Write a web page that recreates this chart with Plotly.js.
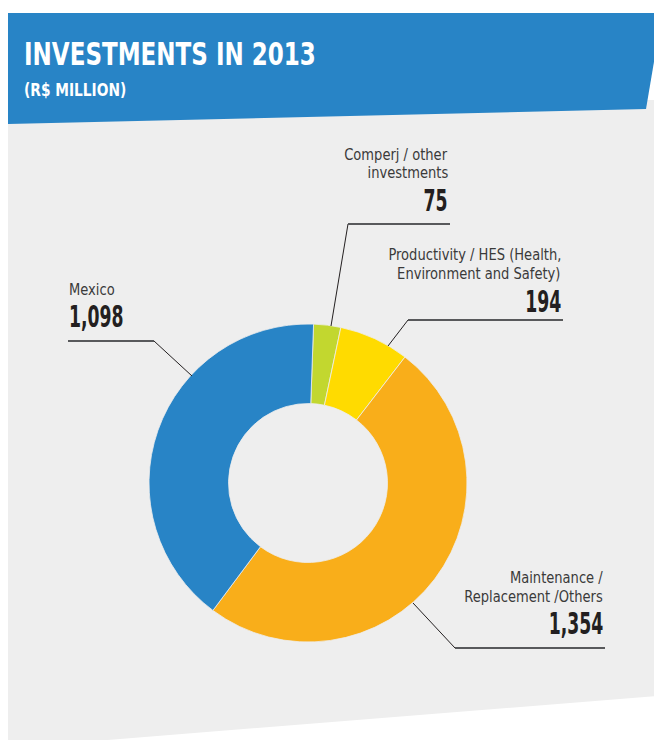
<!DOCTYPE html>
<html><head><meta charset="utf-8">
<script src="https://cdn.plot.ly/plotly-3.0.1.min.js"></script>
<style>html,body{margin:0;padding:0;background:#fff;overflow:hidden;} #chart{width:654px;height:740px;}</style>
</head><body><div id="chart"></div>
<script>
// ---- data ----
const categories = ["Comperj / other investments", "Productivity / HES (Health, Environment and Safety)", "Maintenance / Replacement /Others", "Mexico"];
const values = [75, 194, 1354, 1098];
const valueLabels = ["75", "194", "1,354", "1,098"];
const labelLines = [["Comperj / other", "investments"], ["Productivity / HES (Health,", "Environment and Safety)"], ["Maintenance /", "Replacement /Others"], ["Mexico"]];
const titleText = "INVESTMENTS IN 2013";
const subtitleText = "(R$ MILLION)";

// ---- styles / layout ----
const sliceColors = ["#c2d72f", "#ffdb00", "#f9ae1a", "#2884c6"];
const W = 654, H = 740;
const FONT = "'DejaVu Sans Condensed', 'DejaVu Sans', sans-serif";
const px = x => x / W;
const py = y => 1 - y / H;
const cx = 308, cy = 483, R = 159;

// label placement per slice: anchor x, side, line centers, number center, leader polyline
const labelPos = [
  {x: 449, anchor: "right", lines: [155, 173], num: 200, leader: [[331, 326], [348, 224], [450, 224]]},
  {x: 562, anchor: "right", lines: [254.5, 274], num: 301.5, leader: [[388, 346], [408, 320], [563, 320]]},
  {x: 604, anchor: "right", lines: [578, 596.5], num: 623.5, leader: [[413, 603], [455, 648], [605, 648]]},
  {x: 68, anchor: "left", lines: [290.5], num: 316.5, leader: [[192, 376], [154, 341], [68, 341]]}
];

const annotations = [];
const shapes = [];
const squeeze = []; // [annotation index, horizontal scale, anchor side]

function pathOf(pts) {
  return pts.map((p, i) => (i ? "L" : "M") + px(p[0]) + "," + py(p[1])).join(" ") + " Z";
}

// background panels
shapes.push({type: "path", xref: "paper", yref: "paper", layer: "below",
  path: pathOf([[8, 100], [W + 2, 100], [W + 2, 696], [8, 748]]),
  fillcolor: "#eeeeee", line: {width: 0}});
shapes.push({type: "path", xref: "paper", yref: "paper", layer: "below",
  path: pathOf([[8, 13], [W + 2, 13], [W + 2, 50], [646, 109], [8, 124]]),
  fillcolor: "#2884c6", line: {width: 0}});

squeeze.push([annotations.length, 0.8, "left"]);
annotations.push({xref: "paper", yref: "paper", x: px(22), y: py(54), xanchor: "left", yanchor: "middle",
  text: "<b>" + titleText + "</b>", showarrow: false, font: {family: FONT, size: 32, color: "#ffffff"}});
squeeze.push([annotations.length, 0.9, "left"]);
annotations.push({xref: "paper", yref: "paper", x: px(22), y: py(90), xanchor: "left", yanchor: "middle",
  text: "<b>" + subtitleText + "</b>", showarrow: false, font: {family: FONT, size: 17, color: "#ffffff"}});

labelPos.forEach((lp, i) => {
  labelLines[i].forEach((t, j) => {
    squeeze.push([annotations.length, 0.97, lp.anchor]);
    annotations.push({xref: "paper", yref: "paper", x: px(lp.x), y: py(lp.lines[j]), xanchor: lp.anchor, yanchor: "middle",
      text: t, showarrow: false, borderpad: 0, font: {family: FONT, size: 15, color: "#3a3a3a"}});
  });
  squeeze.push([annotations.length, 0.64, lp.anchor]);
  annotations.push({xref: "paper", yref: "paper", x: px(lp.x), y: py(lp.num), xanchor: lp.anchor, yanchor: "middle",
    text: "<b>" + valueLabels[i] + "</b>", showarrow: false, borderpad: 0, font: {family: FONT, size: 30, color: "#231f20"}});
  const L = lp.leader;
  shapes.push({type: "path", xref: "paper", yref: "paper", layer: "above",
    path: "M" + px(L[0][0]) + "," + py(L[0][1]) + " L" + px(L[1][0]) + "," + py(L[1][1]),
    line: {color: "#231f20", width: 1}});
  shapes.push({type: "path", xref: "paper", yref: "paper", layer: "above",
    path: "M" + px(L[1][0]) + "," + py(L[1][1]) + " L" + px(L[2][0]) + "," + py(L[2][1]),
    line: {color: "#58595b", width: 2}});
});

const trace = {
  type: "pie", labels: categories, values: values, sort: false, direction: "clockwise", rotation: 2,
  hole: 0.5, textinfo: "none", hoverinfo: "label+value",
  marker: {colors: sliceColors, line: {color: "#eeeeee", width: 0.8}},
  domain: {x: [px(cx - R), px(cx + R)], y: [py(cy + R), py(cy - R)]},
  showlegend: false
};

const layout = {
  width: W, height: H, margin: {l: 0, r: 0, t: 0, b: 0},
  paper_bgcolor: "#ffffff", showlegend: false,
  shapes: shapes, annotations: annotations
};

Plotly.newPlot("chart", [trace], layout, {displayModeBar: false, staticPlot: true}).then(gd => {
  // condensed look: squeeze annotation text horizontally around its anchored edge
  squeeze.forEach(([idx, s, side]) => {
    const t = gd.querySelector('.annotation[data-index="' + idx + '"] text.annotation-text');
    if (!t) return;
    const b = t.getBBox();
    const ox = side === "right" ? b.x + b.width : b.x;
    t.setAttribute("transform", "translate(" + ox + ",0) scale(" + s + ",1) translate(" + (-ox) + ",0)");
  });
});
</script>
</body></html>
